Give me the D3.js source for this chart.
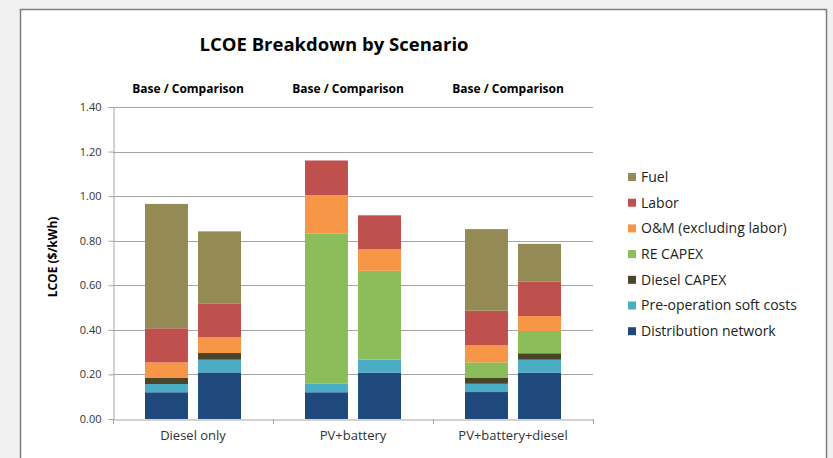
<!DOCTYPE html>
<meta charset="utf-8">
<style>
  body {
    margin: 0;
    background: #f0f0f0;
    font-family: "Open Sans", sans-serif;
  }

  .grid line {
    stroke: #a6a6a6;
  }

  .axis path,
  .axis line {
    stroke: #a6a6a6;
  }

  .axis text {
    fill: #333;
  }
</style>

<body>
  <svg width="833" height="458"></svg>
</body>
<script src="https://d3js.org/d3.v7.min.js"></script>
<script>
  // scenarios and the two bars (base / comparison) in each
  var scenarios = ["Diesel only", "PV+battery", "PV+battery+diesel"];
  var cases = ["Base", "Comparison"];
  var yTicks = [0, 0.2, 0.4, 0.6, 0.8, 1.0, 1.2, 1.4];

  // cost components, bottom to top
  var components = ["Distribution network", "Pre-operation soft costs", "Diesel CAPEX",
    "RE CAPEX", "O&M (excluding labor)", "Labor", "Fuel"];
  var colors = ["#1f497d", "#4bacc6", "#4a4429", "#8bbd5a", "#f79646", "#c0504d", "#948a54"];

  // values per bar in order: Diesel base, Diesel comp, PV base, PV comp, Hybrid base, Hybrid comp
  var distribution = [0.120, 0.209, 0.120, 0.208, 0.121, 0.208];
  var preOperation = [0.037, 0.057, 0.038, 0.058, 0.037, 0.058];
  var dieselCapex = [0.027, 0.030, 0, 0, 0.026, 0.029];
  var reCapex = [0, 0, 0.673, 0.399, 0.070, 0.100];
  var onm = [0.070, 0.072, 0.174, 0.096, 0.078, 0.067];
  var labor = [0.153, 0.151, 0.155, 0.153, 0.154, 0.154];
  var fuel = [0.558, 0.323, 0, 0, 0.366, 0.170];

  var series = [distribution, preOperation, dieselCapex, reCapex, onm, labor, fuel];

  var rows = [];
  scenarios.forEach(function (s, i) {
    cases.forEach(function (c, j) {
      var r = { scenario: s, case: c };
      components.forEach(function (k, n) {
        r[k] = series[n][i * 2 + j];
      });
      rows.push(r);
    });
  });

  var svg = d3.select("svg");

  // chart frame
  svg.append("rect")
    .attr("x", 20.5).attr("y", 9.5)
    .attr("width", 806).attr("height", 460)
    .attr("fill", "#fff")
    .attr("stroke", "#7f7f7f")
    .attr("stroke-width", 1.5);

  var margin = { top: 107, left: 113 },
    width = 480,
    height = 312;

  var g = svg.append("g")
    .attr("transform", "translate(" + margin.left + "," + margin.top + ")");

  var x0 = d3.scaleBand().domain(scenarios).range([0, width]).paddingInner(0).paddingOuter(0);
  var x1 = d3.scaleBand().domain(cases).range([32, 128]).paddingInner(0.19);
  var y = d3.scaleLinear().domain([0, 1.4]).range([height, 0]);

  // gridlines
  g.append("g")
    .attr("class", "grid")
    .selectAll("line")
    .data(yTicks.slice(1))
    .enter().append("line")
    .attr("x1", 0).attr("x2", width)
    .attr("y1", function (d) { return Math.round(y(d)) + 0.5; })
    .attr("y2", function (d) { return Math.round(y(d)) + 0.5; });

  // y axis
  g.append("g")
    .attr("class", "axis")
    .attr("transform", "translate(0.5,0)")
    .call(d3.axisLeft(y).tickValues(yTicks).tickFormat(d3.format(".2f")).tickSize(5).tickPadding(7))
    .call(function (a) {
      a.selectAll("text").style("font-size", "11px").style("font-family", "Open Sans");
    });

  // x axis
  g.append("g")
    .attr("class", "axis")
    .attr("transform", "translate(0," + (height + 0.5) + ")")
    .call(d3.axisBottom(x0).tickSize(0).tickPadding(11))
    .call(function (a) {
      a.selectAll("text").style("font-size", "13px").style("font-family", "Open Sans").attr("fill", "#222");
    });

  // category dividers on the x axis
  g.append("g")
    .attr("class", "axis")
    .selectAll("line")
    .data(d3.range(scenarios.length + 1))
    .enter().append("line")
    .attr("x1", function (d) { return d * x0.bandwidth() + 0.5; })
    .attr("x2", function (d) { return d * x0.bandwidth() + 0.5; })
    .attr("y1", height).attr("y2", height + 5);

  // stacked bars
  var stack = d3.stack().keys(components);
  var layers = stack(rows);

  g.selectAll(".layer")
    .data(layers)
    .enter().append("g")
    .attr("class", "layer")
    .attr("fill", function (d, i) { return colors[i]; })
    .selectAll("rect")
    .data(function (d) { return d; })
    .enter().append("rect")
    .attr("x", function (d) { return x0(d.data.scenario) + x1(d.data.case); })
    .attr("y", function (d) { return y(d[1]); })
    .attr("width", x1.bandwidth())
    .attr("height", function (d) { return y(d[0]) - y(d[1]); });

  // "Base / Comparison" labels
  g.selectAll(".case-label")
    .data(scenarios)
    .enter().append("text")
    .attr("class", "case-label")
    .attr("x", function (d) { return x0(d) + x0.bandwidth() / 2 - 5; })
    .attr("y", -14)
    .attr("text-anchor", "middle")
    .style("font-size", "12px")
    .style("font-weight", "bold")
    .text("Base / Comparison");

  // title
  svg.append("text")
    .attr("x", 334)
    .attr("y", 51)
    .attr("text-anchor", "middle")
    .style("font-size", "18.5px")
    .style("font-weight", "bold")
    .text("LCOE Breakdown by Scenario");

  // y label
  svg.append("text")
    .attr("transform", "translate(57,257) rotate(-90)")
    .attr("text-anchor", "middle")
    .style("font-size", "12px")
    .style("font-weight", "bold")
    .text("LCOE ($/kWh)");

  // legend, top to bottom
  var legendItems = components.slice().reverse();
  var legend = svg.append("g")
    .attr("transform", "translate(628,177)");

  var li = legend.selectAll(".item")
    .data(legendItems)
    .enter().append("g")
    .attr("transform", function (d, i) { return "translate(0," + (i * 25.7) + ")"; });

  li.append("rect")
    .attr("x", 0).attr("y", -4)
    .attr("width", 8).attr("height", 8)
    .attr("fill", function (d) { return colors[components.indexOf(d)]; });

  li.append("text")
    .attr("x", 13)
    .attr("dy", "0.35em")
    .style("font-size", "14px")
    .attr("fill", "#222")
    .text(function (d) { return d; });
</script>
